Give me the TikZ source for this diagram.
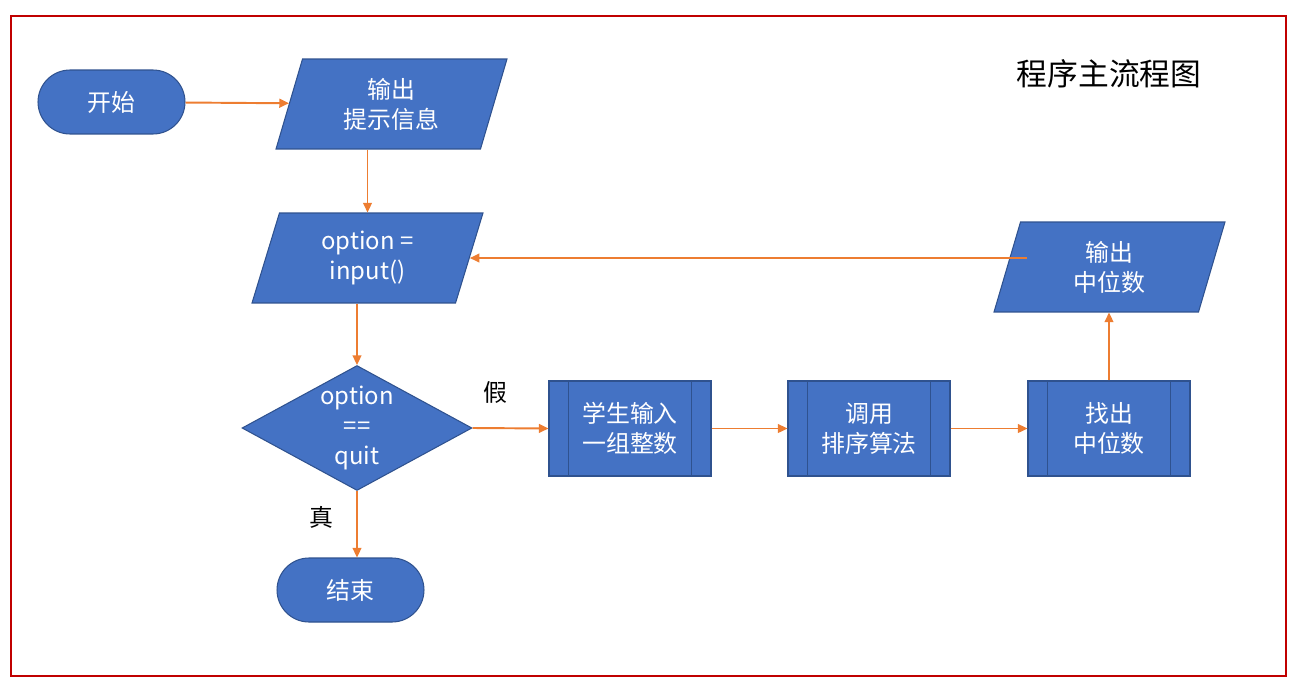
\documentclass[tikz,border=0pt]{standalone}
\usepackage{fontspec}
\newfontfamily\cjk{Noto Sans CJK SC}
\usepackage{xcolor}
\usepackage{tikz}
\usetikzlibrary{shapes.geometric, arrows.meta, positioning, calc}

\definecolor{boxblue}{HTML}{4472C4}
\definecolor{boxline}{HTML}{2F528F}
\definecolor{arrorange}{HTML}{ED7D31}
\definecolor{framered}{HTML}{C00000}

\begin{document}
\begin{tikzpicture}[x=0.02cm, y=-0.02cm,
    txt/.style={font=\cjk\fontsize{13.6}{17}\selectfont, text=white, align=center},
    term/.style={txt, draw=boxline, fill=boxblue, line width=0.6pt, rounded corners=0.64cm, minimum width=2.94cm, minimum height=1.28cm, inner sep=0pt},
    io/.style={txt, draw=boxline, fill=boxblue, line width=0.6pt, trapezium, trapezium left angle=63, trapezium right angle=117, trapezium stretches body, minimum width=4.62cm, minimum height=1.8cm, inner sep=0pt},
    proc/.style={txt, draw=boxline, fill=boxblue, line width=0.6pt, minimum width=3.24cm, minimum height=1.9cm, inner sep=0pt},
    cond/.style={txt, draw=boxline, fill=boxblue, line width=0.6pt, diamond, aspect=1.84, minimum width=4.6cm, minimum height=2.5cm, inner sep=0pt},
    lbl/.style={font=\cjk\fontsize{13.6}{17}\selectfont, text=black},
    arr/.style={-{Triangle[length=5.5pt, width=5pt]}, draw=arrorange, fill=arrorange, line width=1.1pt},
]
\useasboundingbox (0,0) rectangle (1302,690);

% frame and title
\draw[framered, line width=1.2pt] (11,16) rectangle (1286,676);
\node[font=\cjk\fontsize{17.5}{20}\selectfont] (title) at (1109,74) {程序主流程图};

% left column
\node[term] (start) at (111.5,102) {开始};
\node[io] (prompt) at (391.5,104) {输出\\提示信息};
\node[io] (inp) at (367.5,258) {option =\\input()};
\node[cond] (dec) at (357,428) {option\\==\\quit};
\node[term] (stop) at (350.5,590) {结束};

% bottom row
\node[proc] (readn) at (630,428.5) {学生输入\\一组整数};
\node[proc] (sortn) at (869,428.5) {调用\\排序算法};
\node[proc] (findn) at (1109,428.5) {找出\\中位数};
\node[io] (outmed) at (1109.5,267) {输出\\中位数};

\foreach \b in {readn, sortn, findn} {
    \draw[boxline, line width=0.6pt] ([xshift=0.4cm]\b.north west) -- ([xshift=0.4cm]\b.south west);
    \draw[boxline, line width=0.6pt] ([xshift=-0.4cm]\b.north east) -- ([xshift=-0.4cm]\b.south east);
}

% branch labels
\node[lbl] (nolbl) at (495,392) {假};
\node[lbl] (yeslbl) at (321,517) {真};

% connectors
\draw[arr] (start) -- (prompt);
\draw[arr] (prompt.south -| inp.north) -- (inp.north);
\draw[arr] (dec.north |- inp.south) -- (dec.north);
\draw[arr] (dec.south) -- (stop.north -| dec.south);
\draw[arr] (dec.east) -- (readn.west);
\draw[arr] (readn) -- (sortn);
\draw[arr] (sortn) -- (findn);
\draw[arr] (findn.north) -- (findn.north |- outmed.south);
\draw[arr] ([xshift=0.4cm]outmed.west |- inp.east) -- (inp.east);

\end{tikzpicture}
\end{document}
